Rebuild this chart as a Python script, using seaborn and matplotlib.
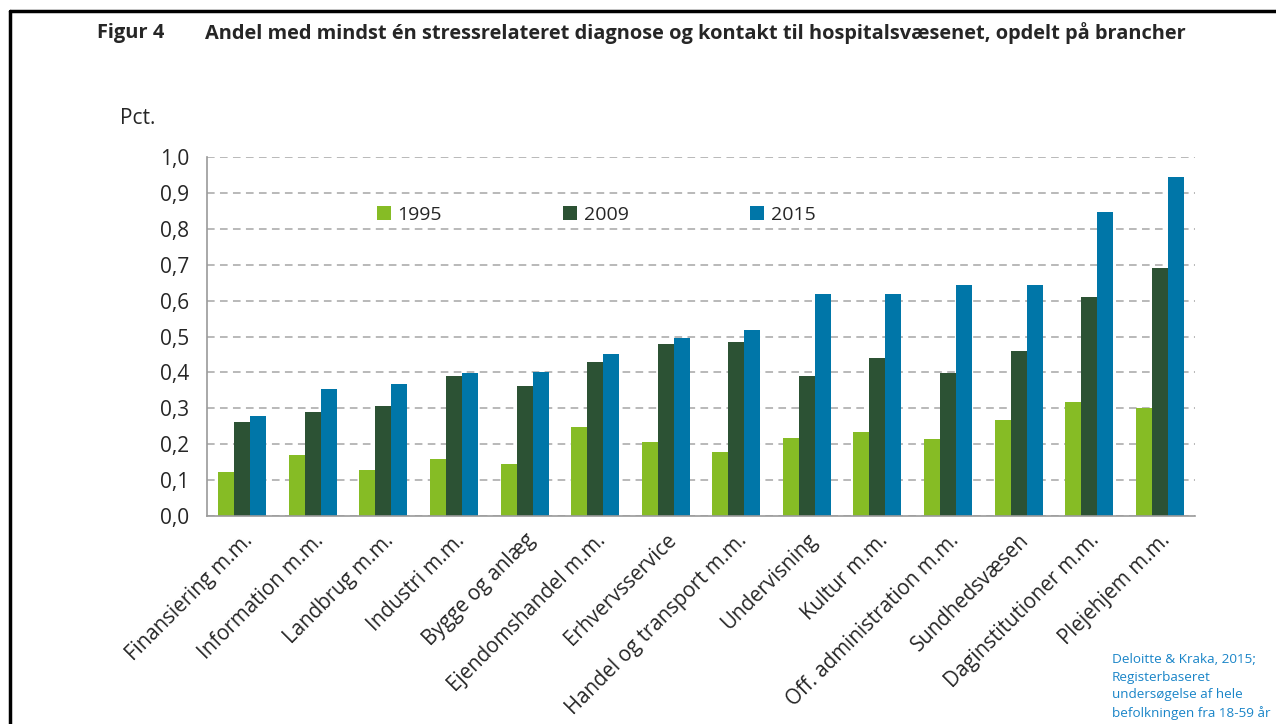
import numpy as np
import pandas as pd
import seaborn as sns
import matplotlib.pyplot as plt
from matplotlib.lines import Line2D
from matplotlib.ticker import FixedLocator

# data
brancher = ['Finansiering m.m.', 'Information m.m.', 'Landbrug m.m.', 'Industri m.m.',
            'Bygge og anlæg', 'Ejendomshandel m.m.', 'Erhvervsservice',
            'Handel og transport m.m.', 'Undervisning', 'Kultur m.m.',
            'Off. administration m.m.', 'Sundhedsvæsen', 'Daginstitutioner m.m.',
            'Plejehjem m.m.']
aar = ['1995', '2009', '2015']
v1995 = [0.123, 0.170, 0.128, 0.160, 0.145, 0.248, 0.205, 0.178, 0.217, 0.233, 0.215, 0.268, 0.318, 0.302]
v2009 = [0.262, 0.290, 0.307, 0.390, 0.363, 0.428, 0.478, 0.485, 0.389, 0.441, 0.398, 0.461, 0.609, 0.692]
v2015 = [0.279, 0.354, 0.367, 0.397, 0.401, 0.450, 0.497, 0.518, 0.617, 0.619, 0.643, 0.643, 0.847, 0.943]
farver = ['#86BC25', '#2C5234', '#0076A8']

df = pd.DataFrame({
    'branche': brancher * 3,
    'aar': np.repeat(aar, len(brancher)),
    'andel': v1995 + v2009 + v2015,
})

sns.set_theme(style='white')
plt.rcParams['font.family'] = ['Open Sans', 'DejaVu Sans']

fig = plt.figure(figsize=(12.76, 7.24), dpi=100)
ax = fig.add_axes([207/1276, 1 - 516/724, (1195-207)/1276, (516-157)/724])

sns.barplot(data=df, x='branche', y='andel', hue='aar', palette=farver,
            width=0.68, gap=0, saturation=1, errorbar=None, linewidth=0, ax=ax)

ax.set_ylim(0, 1.0)
ax.set_xlim(-0.5, len(brancher) - 0.5)
ax.set_yticks(np.arange(0, 1.01, 0.1))
ax.set_yticklabels([f'{v:.1f}'.replace('.', ',') for v in np.arange(0, 1.01, 0.1)], fontsize=15)
ax.yaxis.grid(True, linestyle=(0, (5, 3.5)), color='#a6a6a6', linewidth=1.1)
ax.set_axisbelow(True)

ax.xaxis.set_minor_locator(FixedLocator(np.arange(-0.5, len(brancher), 1)))
ax.tick_params(axis='x', which='major', length=0, pad=10)
ax.tick_params(axis='x', which='minor', length=6, color='#9a9a9a', width=1, direction='out')
ax.tick_params(axis='y', length=6, color='#9a9a9a', width=1, direction='out', pad=7)
ax.set_xticks(range(len(brancher)))
ax.set_xticklabels(brancher, rotation=45, ha='right', rotation_mode='anchor', fontsize=14.8)
ax.set_xlabel('')
ax.set_ylabel('')
for s in ['top', 'right']:
    ax.spines[s].set_visible(False)
for s in ['left', 'bottom']:
    ax.spines[s].set_color('#9a9a9a')
    ax.spines[s].set_linewidth(1.2)

handles, labels = ax.get_legend_handles_labels()
ax.legend(handles, labels, loc='center left', bbox_to_anchor=(377/1276, 1 - 215/724),
          bbox_transform=fig.transFigure, ncol=3, frameon=False, fontsize=14,
          handlelength=0.7, handleheight=0.7, handletextpad=0.35,
          columnspacing=6.25, borderpad=0, borderaxespad=0)

fig.text(120/1276, 1 - 118/724, 'Pct.', fontsize=15, va='center', ha='left')
fig.text(97/1276, 1 - 33/724, 'Figur 4', fontsize=14.4, fontweight='bold', va='center', ha='left')
fig.text(205/1276, 1 - 33/724,
         'Andel med mindst én stressrelateret diagnose og kontakt til hospitalsvæsenet, opdelt på brancher',
         fontsize=14.4, fontweight='bold', va='center', ha='left')
fig.text(1112/1276, 1 - 653/724,
         'Deloitte & Kraka, 2015;\nRegisterbaseret\nundersøgelse af hele\nbefolkningen fra 18-59 år',
         fontsize=9.7, color='#1a85c8', va='top', ha='left', linespacing=1.45)

# frame around figure (top and left edge)
fig.add_artist(Line2D([10/1276, 1], [1 - 11/724, 1 - 11/724], color='black', linewidth=2.5,
                      transform=fig.transFigure))
fig.add_artist(Line2D([10/1276, 10/1276], [0, 1 - 11/724], color='black', linewidth=2.5,
                      transform=fig.transFigure))

fig.savefig('out.png', dpi=100)
